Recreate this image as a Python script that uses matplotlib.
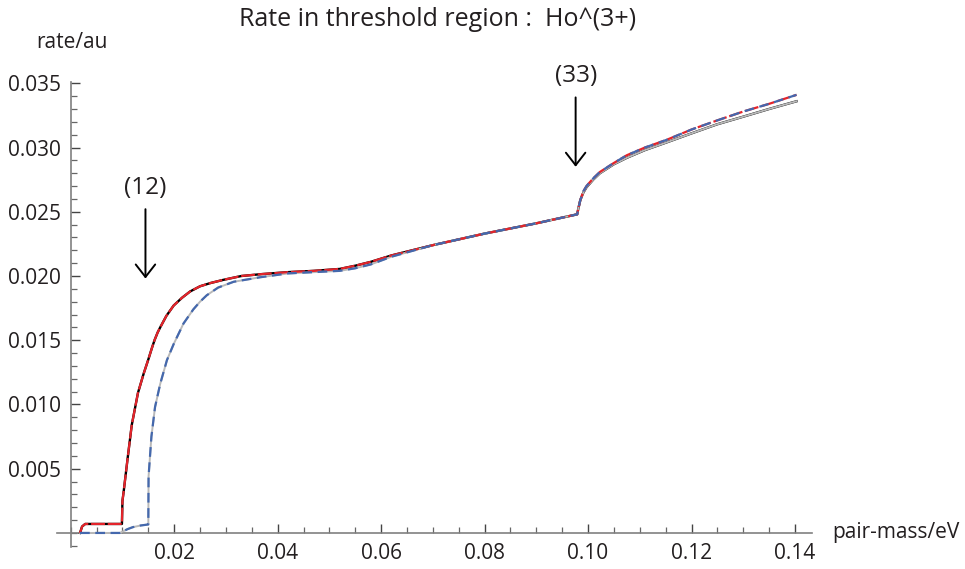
import matplotlib
matplotlib.use("Agg")
import matplotlib.pyplot as plt
from matplotlib.ticker import MultipleLocator, FixedLocator, FuncFormatter

plt.rcParams['font.family'] = ['Open Sans', 'DejaVu Sans']
plt.rcParams['lines.scale_dashes'] = False

# low-threshold pair (black solid / red dashed)
x_low = [0.0018, 0.0022, 0.0028, 0.0050, 0.0099, 0.0100, 0.0102, 0.0110, 0.0118,
         0.0130, 0.0141, 0.0150, 0.0157, 0.0162, 0.0168, 0.0173, 0.0185, 0.0199,
         0.0215, 0.0231, 0.0250, 0.0270, 0.0295, 0.0330, 0.0370, 0.0420, 0.0470,
         0.0520, 0.0550, 0.0580, 0.0620, 0.0700, 0.0800, 0.0900, 0.0979, 0.0981,
         0.0985, 0.0991, 0.0997, 0.1010, 0.1023, 0.1050, 0.1075, 0.1110, 0.1152,
         0.1200, 0.1249, 0.1300, 0.1350, 0.1403]
y_black = [0.0000, 0.0005, 0.0007, 0.0007, 0.0007, 0.0025, 0.0031, 0.0058, 0.0084,
           0.0109, 0.0124, 0.0135, 0.0144, 0.0150, 0.0156, 0.0160, 0.0169, 0.0177,
           0.0183, 0.0188, 0.0192, 0.01945, 0.0197, 0.0200, 0.02015, 0.0203, 0.0204,
           0.02055, 0.0208, 0.0211, 0.0216, 0.0224, 0.0233, 0.0241, 0.0248, 0.0252,
           0.0259, 0.0265, 0.0269, 0.0275, 0.0280, 0.0287, 0.0292, 0.0298, 0.0304,
           0.0311, 0.0318, 0.0324, 0.0330, 0.0336]
y_red = [0.0000, 0.0005, 0.0007, 0.0007, 0.0007, 0.0025, 0.0031, 0.0058, 0.0084,
         0.0109, 0.0124, 0.0135, 0.0144, 0.0150, 0.0156, 0.0160, 0.0169, 0.0177,
         0.0183, 0.0188, 0.0192, 0.01945, 0.0197, 0.0200, 0.02015, 0.0203, 0.0204,
         0.02055, 0.0208, 0.0211, 0.0216, 0.0224, 0.0233, 0.0241, 0.0248, 0.0252,
         0.0259, 0.0266, 0.0270, 0.0276, 0.0281, 0.0288, 0.0294, 0.0300, 0.0306,
         0.0314, 0.0321, 0.0328, 0.0334, 0.0341]

# high-threshold pair (gray solid / blue dashed)
x_high = [0.0018, 0.0095, 0.0100, 0.0110, 0.0120, 0.0135, 0.0150, 0.01505, 0.0156,
          0.0163, 0.0173, 0.0186, 0.0199, 0.0218, 0.0237, 0.0250, 0.0263, 0.0285,
          0.0315, 0.0366, 0.0420, 0.0470, 0.0520, 0.0550, 0.0580, 0.0620, 0.0700,
          0.0800, 0.0900, 0.0979, 0.0981, 0.0985, 0.0991, 0.0997, 0.1010, 0.1023,
          0.1050, 0.1075, 0.1110, 0.1152, 0.1200, 0.1249, 0.1300, 0.1350, 0.1403]
y_gray = [0.0000, 0.0000, 0.0001, 0.0003, 0.00045, 0.00058, 0.00066, 0.0044, 0.0075,
          0.0098, 0.0116, 0.01345, 0.0147, 0.0163, 0.0174, 0.0180, 0.0185, 0.0191,
          0.01955, 0.0199, 0.0202, 0.0203, 0.0204, 0.0206, 0.0209, 0.0215, 0.0224,
          0.0233, 0.0241, 0.0248, 0.0252, 0.0259, 0.0265, 0.0269, 0.0275, 0.0280,
          0.0287, 0.0292, 0.0298, 0.0304, 0.0311, 0.0318, 0.0324, 0.0330, 0.0336]
y_blue = [0.0000, 0.0000, 0.0001, 0.0003, 0.00045, 0.00058, 0.00066, 0.0044, 0.0075,
          0.0098, 0.0116, 0.01345, 0.0147, 0.0163, 0.0174, 0.0180, 0.0185, 0.0191,
          0.01955, 0.0199, 0.0202, 0.0203, 0.0204, 0.0206, 0.0209, 0.0215, 0.0224,
          0.0233, 0.0241, 0.0248, 0.0252, 0.0259, 0.0266, 0.0270, 0.0276, 0.0281,
          0.0288, 0.0294, 0.0300, 0.0306, 0.0314, 0.0321, 0.0328, 0.0334, 0.0341]

x_ticks = [0.02, 0.04, 0.06, 0.08, 0.10, 0.12, 0.14]
y_ticks = [0.005, 0.010, 0.015, 0.020, 0.025, 0.030, 0.035]

# threshold markers: (label, x, arrow top, arrow tip)
markers = [("(12)", 0.01445, 0.0252, 0.0198),
           ("(33)", 0.09760, 0.0339, 0.0285)]

fig = plt.figure(figsize=(9.65, 5.69), dpi=100)
ax = fig.add_axes([0.0588, 0.0392, 0.7827, 0.8167])
ax.set_xlim(-0.0027, 0.1433)
ax.set_ylim(-0.00107, 0.0351)

ax.plot(x_low, y_black, color='black', lw=1.7, zorder=3)
ax.plot(x_high, y_gray, color='#b9b9b9', lw=1.4, zorder=3)
ax.plot(x_low, y_red, color='#e4242b', lw=1.6, dashes=(10, 2), zorder=4)
ax.plot(x_high, y_blue, color='#4468ad', lw=1.6, dashes=(7, 4), zorder=5)

for lab, xm, ytop, ytip in markers:
    ax.annotate("", xy=(xm, ytip), xytext=(xm, ytop),
                arrowprops=dict(arrowstyle='->,head_length=0.9,head_width=0.7',
                                color='black', lw=1.4, shrinkA=0, shrinkB=0),
                annotation_clip=False)
    ax.text(xm, ytop + 0.0007, lab, ha='center', va='bottom', fontsize=17.5,
            color='#231f20', clip_on=False)

for side in ['top', 'right']:
    ax.spines[side].set_visible(False)
ax.spines['left'].set_position(('data', 0))
ax.spines['bottom'].set_position(('data', 0))
ax.spines['left'].set_color('#808080')
ax.spines['bottom'].set_color('#808080')
ax.spines['left'].set_linewidth(1.2)
ax.spines['bottom'].set_linewidth(1.2)

ax.xaxis.set_major_locator(FixedLocator(x_ticks))
ax.yaxis.set_major_locator(FixedLocator(y_ticks))
ax.xaxis.set_minor_locator(MultipleLocator(0.005))
ax.yaxis.set_minor_locator(MultipleLocator(0.001))
ax.xaxis.set_major_formatter(FuncFormatter(lambda v, p: f"{v:.2f}"))
ax.yaxis.set_major_formatter(FuncFormatter(lambda v, p: f"{v:.3f}"))
ax.tick_params(which='major', direction='in', length=6.5, width=1.0, color='#444444',
               labelsize=15, labelcolor='#231f20', pad=7)
ax.tick_params(which='minor', direction='in', length=4, width=0.9, color='#666666')
ax.patch.set_alpha(0)

fig.text(0.0745, 0.926, "rate/au", ha='center', va='center', fontsize=15, color='#231f20')
fig.text(0.862, 0.0633, "pair-mass/eV", ha='left', va='center', fontsize=15, color='#231f20')
fig.text(0.453, 0.966, "Rate in threshold region :  Ho^(3+)", ha='center', va='center',
         fontsize=18, color='#231f20')

fig.savefig("out.png", dpi=100)
